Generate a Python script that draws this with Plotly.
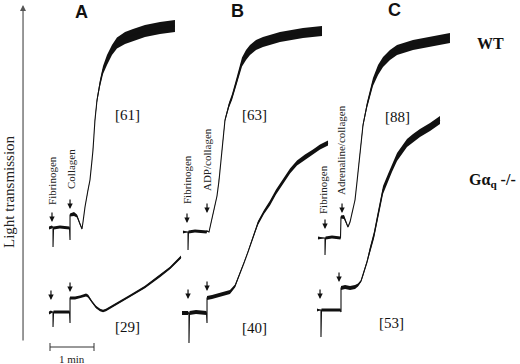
import plotly.graph_objects as go

# ---- data: time (s) and light transmission (arbitrary units); hw = half-width of noise band
wtA_t = [66.8, 70.9, 72.3, 72.3, 73.0, 81.8, 94.8, 95.5, 95.5, 100.9, 105.0, 109.1, 111.8, 113.2, 115.9, 120.0,
         122.7, 125.5, 126.8, 129.5, 132.3, 136.4, 140.5, 145.9, 152.7, 159.5, 170.5, 181.4, 197.7, 218.2, 238.6]
wtA_T = [136, 137, 137, 117, 136, 137, 136, 124, 149, 150, 148, 140, 135, 142, 157, 174,
         184, 204, 214, 244, 264, 281, 294, 304, 314, 321, 326, 329, 333, 336, 338]
wtA_hw = [1.5, 1.5, 0, 0, 1.5, 1.5, 1.5, 0, 1.5, 2, 1.5, 1, 0.5, 0.3, 0.3, 0.3,
          0.3, 0.5, 0.8, 1.5, 2.5, 3.5, 4, 5, 5, 5.5, 6, 6, 6, 6, 6]

koA_t = [66.8, 69.5, 72.3, 72.3, 73.0, 81.8, 94.8, 95.5, 95.5, 102.3, 109.1, 117.3, 120.0, 125.5, 130.9, 136.4,
         140.5, 144.5, 156.8, 177.3, 197.7, 218.2, 231.8, 246.8]
koA_T = [51, 52, 52, 37, 52, 52, 52, 41, 66, 66, 67, 69, 68, 62, 57, 54, 53, 54, 59, 68, 77, 88, 96, 107]
koA_hw = [1.5, 1.5, 0, 0, 1.5, 1.5, 1.5, 0, 1.5, 1.5, 1.5, 1.5, 1.5, 1.2, 1.2, 1.2,
          1.2, 1.2, 1.2, 1.2, 1.2, 1.2, 1.2, 1.5]

wtB_t = [249.5, 256.4, 256.4, 257.0, 265.9, 281.6, 282.3, 285.0, 287.7, 291.8, 295.9, 298.6, 302.7, 306.8,
         312.3, 316.4, 323.2, 330.0, 335.5, 340.9, 349.1, 358.6, 381.8, 413.2, 439.1]
wtB_T = [132, 132, 114, 132, 133, 132, 133, 132, 141, 154, 168, 183, 214, 244,
         259, 267, 284, 302, 309, 314, 319, 322, 327, 331, 333]
wtB_hw = [1.5, 0, 0, 1.5, 1.5, 1.5, 0.5, 0.3, 0.3, 0.3, 0.3, 0.5, 1, 1.5,
          2.5, 3, 4, 4.5, 5, 5, 5, 5, 5, 5, 5]

koB_t = [248.2, 256.4, 257.7, 257.7, 258.4, 267.3, 281.6, 282.3, 282.3, 289.1, 300.0, 313.6, 320.5, 327.3,
         332.7, 338.2, 345.0, 351.8, 360.0, 368.2, 376.4, 384.5, 395.5, 405.0, 415.9, 426.8, 436.4, 447.3]
koB_T = [51, 51, 51, 21, 51, 52, 51, 41, 66, 67, 69, 72, 78, 90,
         101, 112, 127, 141, 152, 161, 172, 181, 193, 201, 207, 212, 217, 221]
koB_hw = [2, 2, 0, 0, 2, 2, 2, 0, 2, 2, 2, 2, 1.5, 1.2,
          1.2, 1.2, 1.5, 2, 2, 2.5, 2.5, 2.5, 2.5, 2.5, 2.5, 2.5, 2.5, 2.5]

wtC_t = [433.6, 443.2, 443.2, 443.9, 452.7, 464.3, 465.0, 469.1, 471.8, 474.5, 477.3, 480.0, 484.1,
         486.8, 490.9, 495.0, 500.5, 508.6, 515.5, 522.3, 531.8, 541.4, 563.2, 586.4, 613.6]
wtC_T = [126, 126, 109, 126, 127, 126, 147, 147, 142, 137, 142, 152, 164,
         182, 209, 239, 259, 282, 294, 302, 309, 314, 319, 322, 326]
wtC_hw = [1.5, 0, 0, 1.5, 1.5, 1.5, 1.5, 2, 1, 0.5, 0.3, 0.3, 0.3,
          0.5, 1, 2, 3, 4, 5, 5, 5, 5, 5, 5, 5]

koC_t = [432.3, 437.7, 437.7, 438.4, 450.0, 464.3, 465.0, 465.0, 470.5, 477.3, 484.1, 488.2, 492.3, 495.0,
         500.5, 504.5, 510.0, 514.1, 518.2, 522.3, 529.1, 534.5, 541.4, 548.2, 555.0, 563.2, 572.7, 586.4, 600.0]
koC_T = [54, 54, 27, 54, 54, 54, 52, 76, 77, 76, 77, 79, 83, 89,
         102, 114, 129, 144, 159, 174, 186, 196, 207, 214, 221, 226, 231, 237, 244]
koC_hw = [1.5, 0, 0, 1.5, 1.5, 1.5, 0, 2, 2, 2, 2, 1.5, 1, 1.5,
          2, 3, 3.5, 4, 4, 4, 4, 4, 4, 4, 4, 4, 4, 4, 4]

# addition arrows (tip position)
arrow_t = [70.9, 95.5, 69.5, 95.5, 255.0, 282.3, 256.4, 282.3, 443.2, 466.4, 436.4, 462.3]
arrow_T = [142, 155, 64, 72, 141, 151, 65, 73, 135, 151, 65, 82]

# agonist labels
agonist_labels = ["Fibrinogen", "Collagen", "Fibrinogen", "ADP/collagen", "Fibrinogen", "Adrenaline/collagen"]
agonist_t = [70.9, 96.8, 255.0, 282.3, 440.5, 465.0]
agonist_T = [184, 195, 184, 204, 174, 214]

# aggregation values
value_labels = ["[61]", "[63]", "[88]", "[29]", "[40]", "[53]"]
value_t = [173.2, 347.7, 541.4, 174.5, 347.7, 534.5]
value_T = [249, 249, 247, 37, 36, 41]

panel_labels = ["A", "B", "C"]
panel_t = [111.8, 324.5, 537.3]
panel_T = [352, 353, 354]

scalebar_t0 = 68.2
scalebar_len = 60  # 1 min

fig = go.Figure()

def add_trace(t, T, hw):
    up = [a + b for a, b in zip(T, hw)]
    lo = [a - b for a, b in zip(T, hw)]
    fig.add_trace(go.Scatter(x=t + t[::-1], y=up + lo[::-1], fill="toself", mode="lines",
                             line=dict(width=0, color="#111"), fillcolor="#111",
                             hoverinfo="skip", showlegend=False))
    fig.add_trace(go.Scatter(x=t, y=T, mode="lines", line=dict(width=1.1, color="#111"),
                             hoverinfo="skip", showlegend=False))

for t, T, hw in [(wtA_t, wtA_T, wtA_hw), (koA_t, koA_T, koA_hw), (wtB_t, wtB_T, wtB_hw),
                 (koB_t, koB_T, koB_hw), (wtC_t, wtC_T, wtC_hw), (koC_t, koC_T, koC_hw)]:
    add_trace(t, T, hw)

# scale bar
s0, s1 = scalebar_t0, scalebar_t0 + scalebar_len
fig.add_trace(go.Scatter(x=[s0, s0, None, s0, s1, None, s1, s1],
                         y=[13, 21, None, 17, 17, None, 13, 21], mode="lines",
                         line=dict(width=1, color="#333"), hoverinfo="skip", showlegend=False))

serif = "Liberation Serif"
ann = []
# y-axis arrow
ann.append(dict(x=31.4, y=359, ax=31.4, ay=22, axref="x", ayref="y", xref="x", yref="y",
                text="", showarrow=True, arrowhead=2, arrowsize=1, arrowwidth=1.2, arrowcolor="#555"))
ann.append(dict(x=12.3, y=172, text="Light transmission", showarrow=False, textangle=-90,
                font=dict(family=serif, size=15, color="#222")))
for t, T in zip(arrow_t, arrow_T):
    ann.append(dict(x=t, y=T, ax=0, ay=-11, text="", showarrow=True, arrowhead=2, arrowsize=0.9,
                    arrowwidth=1.2, arrowcolor="#111", standoff=0))
for s, t, T in zip(agonist_labels, agonist_t, agonist_T):
    ann.append(dict(x=t, y=T, text=s, showarrow=False, textangle=-90,
                    font=dict(family=serif, size=11, color="#222")))
for s, t, T in zip(value_labels, value_t, value_T):
    ann.append(dict(x=t, y=T, text=s, showarrow=False, font=dict(family=serif, size=15, color="#111")))
for s, t, T in zip(panel_labels, panel_t, panel_T):
    ann.append(dict(x=t, y=T, text="<b>" + s + "</b>", showarrow=False,
                    font=dict(family="Liberation Sans", size=18, color="#111")))
ann.append(dict(x=669.5, y=321, text="<b>WT</b>", showarrow=False,
                font=dict(family=serif, size=16, color="#111")))
ann.append(dict(x=671, y=184, text="<b>Gα<sub>q</sub> -/-</b>", showarrow=False,
                font=dict(family=serif, size=16, color="#111")))
ann.append(dict(x=(s0 + s1) / 2, y=5, text="1 min", showarrow=False,
                font=dict(family=serif, size=11, color="#222")))

fig.update_layout(width=520, height=364, margin=dict(l=0, r=0, t=0, b=0),
                  paper_bgcolor="white", plot_bgcolor="white", annotations=ann,
                  xaxis=dict(range=[0, 520 * 60 / 44], visible=False, fixedrange=True),
                  yaxis=dict(range=[0, 364], visible=False, fixedrange=True))
fig.write_html("out.html", config={"displayModeBar": False},
               post_script="document.body.style.margin='0';document.body.style.overflow='hidden';")
